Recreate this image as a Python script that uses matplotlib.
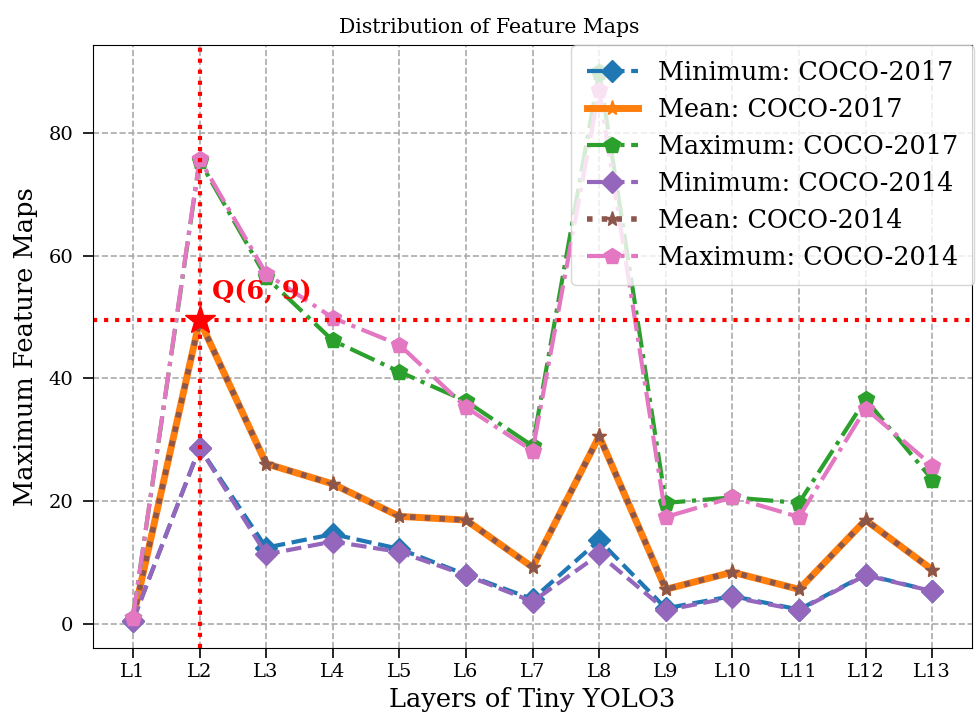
import matplotlib.pyplot as plt
import numpy as np

plt.rcParams['font.family'] = 'DejaVu Serif'

layers = ['L1', 'L2', 'L3', 'L4', 'L5', 'L6', 'L7', 'L8', 'L9', 'L10', 'L11', 'L12', 'L13']
min_2017 = [0.5, 28.7, 12.4, 14.6, 12.2, 8.0, 4.0, 13.6, 2.5, 4.5, 2.3, 8.0, 5.3]
mean_2017 = [0.8, 49.5, 26.1, 22.8, 17.5, 16.9, 9.2, 30.6, 5.6, 8.4, 5.6, 16.9, 8.8]
max_2017 = [1.0, 75.5, 56.5, 46.2, 41.1, 36.3, 29.0, 90.0, 19.7, 20.6, 19.7, 36.6, 23.5]
min_2014 = [0.5, 28.7, 11.3, 13.4, 11.7, 7.9, 3.6, 11.3, 2.2, 4.3, 2.2, 7.9, 5.3]
mean_2014 = [0.8, 49.5, 26.1, 22.8, 17.5, 16.9, 9.2, 30.6, 5.6, 8.4, 5.6, 16.9, 8.8]
max_2014 = [1.0, 75.8, 57.1, 49.9, 45.5, 35.3, 28.2, 87.0, 17.4, 20.6, 17.4, 35.1, 25.8]
q_point = (1, 49.5)

x = np.arange(len(layers))
fig, ax = plt.subplots(figsize=(9.79, 7.2), dpi=100)

ax.plot(x, min_2017, '--', color='tab:blue', marker='D', ms=11, lw=3, label='Minimum: COCO-2017')
ax.plot(x, mean_2017, '-', color='tab:orange', marker='*', ms=11, lw=5, label='Mean: COCO-2017')
ax.plot(x, max_2017, '-.', color='tab:green', marker='p', ms=12, lw=3, label='Maximum: COCO-2017')
ax.plot(x, min_2014, '--', color='tab:purple', marker='D', ms=11, lw=3, label='Minimum: COCO-2014')
ax.plot(x, mean_2014, ':', color='tab:brown', marker='*', ms=11, lw=4, label='Mean: COCO-2014')
ax.plot(x, max_2014, '-.', color='tab:pink', marker='p', ms=12, lw=3, label='Maximum: COCO-2014')

ax.axvline(q_point[0], color='red', ls=':', lw=3)
ax.axhline(q_point[1], color='red', ls=':', lw=3)
ax.plot(*q_point, marker='*', color='red', ms=22, zorder=5)
ax.text(q_point[0] + 0.18, q_point[1] + 3.3, 'Q(6, 9)', color='red', fontsize=18.4, fontweight='bold')

ax.set_xticks(x)
ax.set_xticklabels(layers)
ax.tick_params(labelsize=14, length=7, width=1.2)
ax.tick_params(axis='x', pad=4)
ax.tick_params(axis='y', pad=7)
ax.grid(True, ls='--', lw=1.2, color='#aaaaaa')
ax.set_xlabel('Layers of Tiny YOLO3', fontsize=18.5)
ax.set_ylabel('Maximum Feature Maps', fontsize=18.5, labelpad=8)
fig.suptitle('Distribution of Feature Maps', fontsize=14.7, x=0.5, y=0.975)
ax.legend(loc='upper right', bbox_to_anchor=(1.002, 1.0), borderaxespad=0.0, fontsize=18.4,
          handlelength=2.0, handletextpad=0.8, borderpad=0.6, labelspacing=0.47)

fig.subplots_adjust(left=0.095, right=0.993, bottom=0.1, top=0.938)
fig.savefig('out.png')
